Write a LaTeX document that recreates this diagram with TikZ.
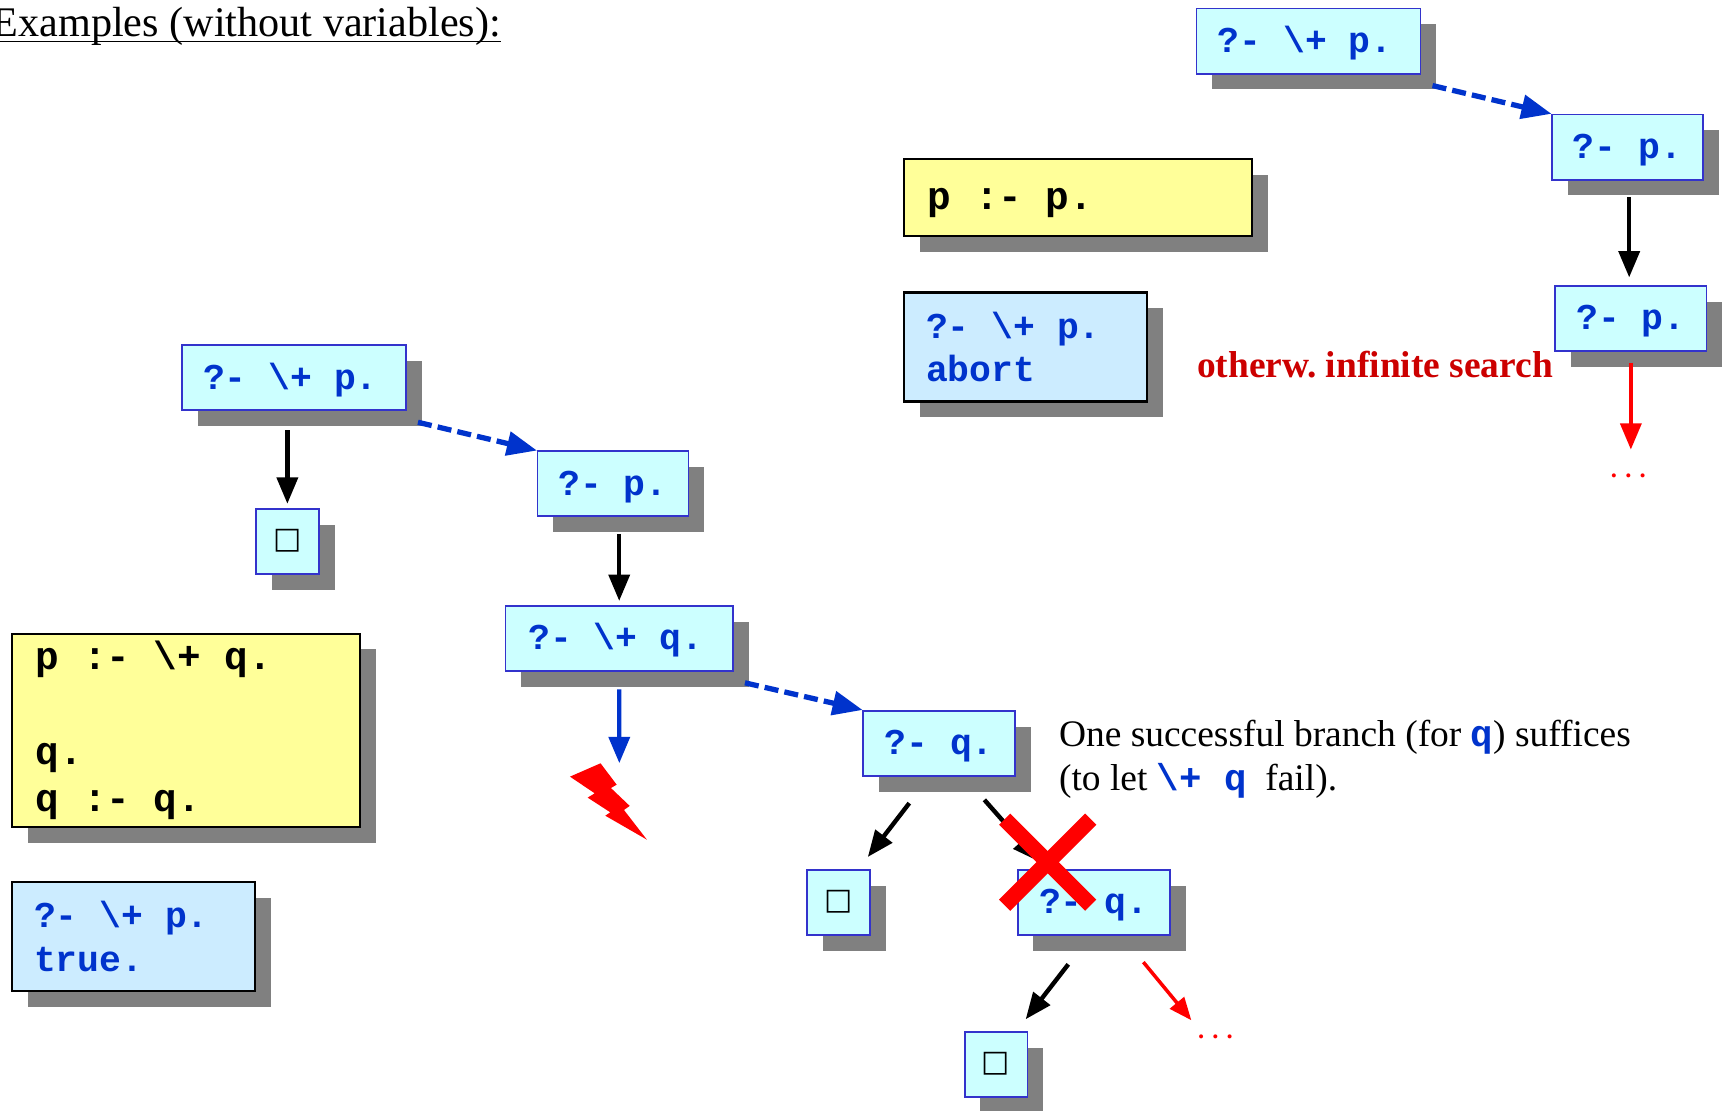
\documentclass[tikz,border=0pt]{standalone}
\usepackage{fontspec}
\setmainfont{Liberation Serif}
\setmonofont{Liberation Mono}
\newfontfamily\boxfont{DejaVu Sans}
\usetikzlibrary{shadows}
\usetikzlibrary{arrows}
\definecolor{goalblue}{HTML}{0033CC}
\definecolor{goaledge}{HTML}{3333CC}
\definecolor{goalfill}{HTML}{CCFFFF}
\definecolor{clausefill}{HTML}{FFFF99}
\definecolor{answerfill}{HTML}{CCECFF}
\definecolor{shadowgray}{HTML}{808080}
\definecolor{notered}{HTML}{CC0000}
\newcommand{\goalcode}[1]{\textcolor{goalblue}{\ttfamily\bfseries #1}}
\begin{document}
\begin{tikzpicture}[x=0.628pt,y=-0.628pt]
\tikzstyle{boxshadow}=[drop shadow={shadow xshift=9pt,shadow yshift=-9pt,fill=shadowgray,opacity=1}]
\tikzstyle{lien}=[-triangle 45,line width=2.5pt]
\tikzstyle{suite}=[lien,goalblue,line width=3pt,dash pattern=on 8pt off 3.5pt]
\tikzset{goal/.style={draw=goaledge,line width=1pt,fill=goalfill,boxshadow,anchor=north west,
minimum height=37pt,inner xsep=0pt,inner ysep=0pt,text=goalblue,text height=17pt,text depth=3.8pt,
font=\fontsize{20.7}{25}\ttfamily\bfseries},
longgoal/.style={goal,execute at end node={\kern4pt}},
leaf/.style={goal,minimum width=35.8pt,text height=11pt,text depth=3pt,font=\fontsize{17}{20}\boxfont,text=black},
prog/.style={draw=black,line width=1.2pt,fill=#1,boxshadow,anchor=north west,align=flush left,inner ysep=0pt,inner xsep=13.5pt,font=\fontsize{22.4}{27}\ttfamily\bfseries},
prog/.default={clausefill},
reponse/.style={prog=answerfill,minimum height=62pt,text width=113pt,text=goalblue,inner xsep=12.5pt,font=\fontsize{20.7}{25}\ttfamily\bfseries},
points/.style={text=red,inner sep=0pt,font=\fontsize{14}{18}\selectfont\bfseries}}
\useasboundingbox (0,0) rectangle (1568,1005.5);
% title and notes
\node (titre) [anchor=base west,inner sep=0pt,font=\fontsize{24}{28}\selectfont] at (-7,33) {Examples (without variables):};
\draw[line width=0.9pt] ([yshift=-3pt]titre.base west) -- ([yshift=-3pt]titre.base east);
\node (note) [anchor=base west,inner sep=0pt,align=left,font=\fontsize{21.3}{25}\selectfont] at (959,716) {One successful branch (for \goalcode{q}) suffices\\(to let \goalcode{\textbackslash+ q} \ fail).};
\node (infini) [anchor=base west,inner sep=0pt,text=notered,font=\fontsize{21.3}{25}\selectfont\bfseries\frenchspacing] at (1084,342) {otherw. infinite search};
% programs and answers
\node (p1) [prog,minimum height=44pt,text width=171pt,text height=17pt,text depth=3.8pt] at (818,143) {p :- p.};
\node (r1) [reponse] at (818,264) {?- \textbackslash+ p.\\abort};
\node (p2) [prog,minimum height=110pt,text width=171pt] at (10,573) {p :- \textbackslash+ q.\\\mbox{}\\q.\\q :- q.};
\node (r2) [reponse] at (10,798) {?- \textbackslash+ p.\\true.};
% right tree
\node (a1) [longgoal,minimum width=127.5pt] at (1083,7) {?- \textbackslash+ p.};
\node (a2) [goal,minimum width=86pt] at (1405,103) {?- p.};
\node (a3) [goal,minimum width=86pt] at (1408,258) {?- p.};
\node (dots1) [points] at (1475,431) {. . .};
\coordinate (fin1) at (1476,407);
% left tree
\node (b1) [longgoal,minimum width=127.5pt] at (164,312) {?- \textbackslash+ p.};
\node (s1) [leaf] at (231,460) {□};
\node (b2) [goal,minimum width=86pt] at (486,408) {?- p.};
\node (b3) [longgoal,minimum width=129.5pt] at (457,548) {?- \textbackslash+ q.};
\node (b4) [goal,minimum width=86.5pt] at (781,643) {?- q.};
\node (s2) [leaf] at (730,787) {□};
\node (b5) [goal,minimum width=86.5pt] at (921,787) {?- q.};
\node (s3) [leaf] at (873,934) {□};
\node (dots2) [points] at (1101,939) {. . .};
\coordinate (fin2) at (1079,924);
\coordinate (eclair) at (561,691);
\fill[red] (544,691.4) -- (558.6,710.8) -- (553.4,713.8) -- (570.4,730) -- (565.2,733.7) -- (586,760.6) -- (548.3,738.9) -- (552.8,735.8) -- (532.3,722.5) -- (538.7,718.6) -- (516.3,703.5) -- cycle;
% connectors
\draw[suite] ([shift={(10,10)}]a1.south east) -- (a2.north west);
\draw[lien] ([shift={(-1.5,15)}]a2.south -| a3.north) -- ([shift={(-1.5,-7)}]a3.north);
\draw[lien,red] (a3.south) ++(0,10) -- (a3.south |- fin1);
\draw[suite] ([shift={(10,10)}]b1.south east) -- (b2.north west);
\draw[lien] (s1.north |- b1.south) ++(0,17) -- ([yshift=2.5pt]s1.north);
\draw[lien] (b3.north |- b2.south) ++(0,15) -- ([yshift=2.5pt]b3.north);
\draw[lien,goalblue] (b3.south) ++(0,16) -- (eclair);
\draw[suite] ([shift={(10,10)}]b3.south east) -- (b4.north west);
\draw[lien] ([shift={(-27,24)}]b4.south) -- ([shift={(27,-11)}]s2.north);
\draw[lien] ([shift={(41,21)}]b4.south) -- ([shift={(-50,-7)}]b5.north);
\draw[lien] ([shift={(-23,26)}]b5.south) -- ([shift={(27,-11)}]s3.north);
\draw[lien,red,line width=2pt] ([shift={(45,24)}]b5.south) -- (fin2);
% the cut
\coordinate (coupe) at (949,781);
\draw[red,line width=9pt] (coupe) ++(-39,-39) -- ++(78,78);
\draw[red,line width=9pt] (coupe) ++(39,-39) -- ++(-78,78);
\end{tikzpicture}
\end{document}
